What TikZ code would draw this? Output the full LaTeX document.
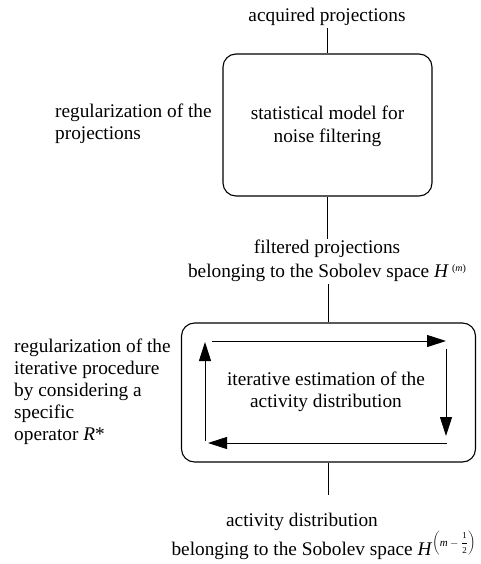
\documentclass[tikz,border=0pt]{standalone}
\usepackage{fontspec}
\setmainfont{Liberation Serif}
\usetikzlibrary{arrows.meta}

\tikzset{
  body/.style={font=\fontsize{19.3}{22}\selectfont, inner sep=0pt},
  stage/.style={draw, line width=1.1pt, rounded corners=13pt, inner sep=0pt},
  link/.style={line width=1pt},
  loop/.style={line width=1pt, -{Triangle[length=19pt,width=12pt]}},
}

\begin{document}
\begin{tikzpicture}[x=1pt,y=-1pt]
  \useasboundingbox (0,0) rectangle (480,564);
  \fill[white] (0,0) rectangle (480,564);

  % input label
  \node[body, anchor=base, inner sep=2pt] (acq) at (327,22) {acquired projections};

  % first stage: filtering (multi-line nodes are placed by the baseline of their last line)
  \node[stage, minimum width=209pt, minimum height=142pt] (box1) at (327.5,125) {};
  \node[body, anchor=base, align=center, font=\fontsize{19.3}{24}\selectfont] (box1txt) at (327.5,143)
    {statistical model for\\noise filtering};
  \node[body, anchor=base west, align=left, font=\fontsize{19.3}{22}\selectfont] (reg1) at (55,140)
    {regularization of the\\projections};

  % intermediate result
  \node[body, anchor=base, align=center, font=\fontsize{19.3}{24}\selectfont] (filt) at (327,277)
    {filtered projections\\belonging to the Sobolev space \textit{H}\,\raisebox{6pt}{\fontsize{10}{10}\selectfont(\textit{m})}};

  % second stage: iterative estimation
  \node[stage, minimum width=294pt, minimum height=139pt] (box2) at (328.5,392.5) {};
  \node[body, anchor=base, align=center, font=\fontsize{19.3}{22}\selectfont] (box2txt) at (326,407)
    {iterative estimation of the\\activity distribution};
  \node[body, anchor=base west, align=left, font=\fontsize{19.3}{21.8}\selectfont] (reg2) at (14,440)
    {regularization of the\\iterative procedure\\by considering a\\specific\\operator \textit{R}*};

  % iteration loop inside the second stage
  \coordinate (c1) at (212,341);
  \coordinate (c2) at (446,341);
  \coordinate (c3) at (446,349);
  \coordinate (c4) at (446,436);
  \coordinate (c5) at (447,443);
  \coordinate (c6) at (208,443);
  \coordinate (c7) at (205,441);
  \coordinate (c8) at (205,342);
  \draw[loop] (c1) -- (c2);
  \draw[loop] (c3) -- (c4);
  \draw[loop] (c5) -- (c6);
  \draw[loop] (c7) -- (c8);

  % output
  \node[body, anchor=base, align=center, font=\fontsize{19.3}{23}\selectfont] (act) at (302,555)
    {activity distribution\\belonging to the Sobolev space \textit{H}\rlap{\raisebox{9pt}{\fontsize{11}{13}\selectfont$\displaystyle\left(\mbox{\textit{m}}-\frac{\mbox{\fontsize{9}{9}\selectfont 1}}{\mbox{\fontsize{9}{9}\selectfont 2}}\right)$}}};

  % vertical connectors
  \draw[link] (acq.south -| box1.north) -- (box1.north);
  \draw[link] (box1.south) -- (box1.south |- filt.north);
  \draw[link, shorten <=3pt] (filt.south -| box2.north) -- (box2.north);
  \draw[link, shorten >=18pt] (box2.south) -- (box2.south |- act.north);
\end{tikzpicture}
\end{document}
